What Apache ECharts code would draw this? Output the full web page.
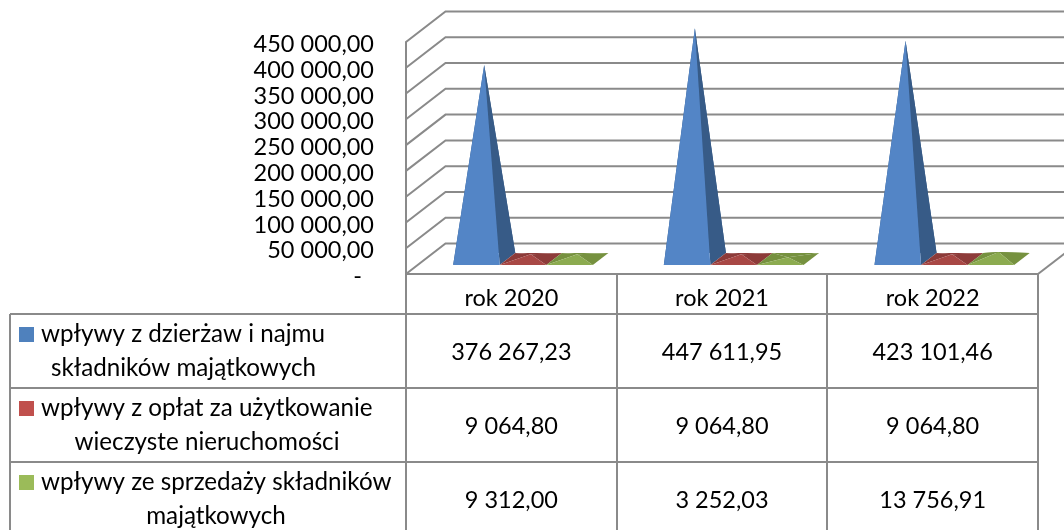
<!DOCTYPE html>
<html>
<head>
<meta charset="utf-8">
<style>
	html, body { margin: 0; padding: 0; background: #fff; }
	#main { width: 1064px; height: 530px; overflow: hidden; }
</style>
<script src="https://cdn.jsdelivr.net/npm/echarts@6/dist/echarts.min.js"></script>
</head>
<body>
<div id="main"></div>
<script>
var categories = ['rok 2020', 'rok 2021', 'rok 2022']
var seriesNames = [
	['wpływy z dzierżaw i najmu', 'składników majątkowych'],
	['wpływy z opłat za użytkowanie', 'wieczyste nieruchomości'],
	['wpływy ze sprzedaży składników', 'majątkowych'],
]
var rentValues = [376267.23, 447611.95, 423101.46]
var feeValues = [9064.8, 9064.8, 9064.8]
var saleValues = [9312.0, 3252.03, 13756.91]
var valueTicks = [0, 50000, 100000, 150000, 200000, 250000, 300000, 350000, 400000, 450000]

var FONT = 'Lato'
var FONT_SIZE = 23.5
var NAME_FONT_SIZE = 24.2
var TEXT_COLOR = '#000'
var LINE_COLOR = '#8a8a8a'
var LINE_WIDTH = 2

var GRID_LEFT = 406
var GRID_RIGHT = 1038
var GRID_TOP = 42
var GRID_BOTTOM = 274
var DEPTH_X = 39.5
var DEPTH_Y = 30.5
var BAR_FRONT = 0.295
var BAR_BACK = 0.689
var BAR_SHARE = 0.221

var allValues = [rentValues, feeValues, saleValues]
var keyColors = ['#4f81bd', '#c0504d', '#9bbb59']
var frontColors = ['#5385c6', '#a84845', '#8cab50']
var sideColors = ['#375b87', '#8d3b39', '#76913f']

var ROW_TOPS = [314, 388, 462]
var COLUMN_LINES = [617, 827]
var ROW_HEIGHT = 74
var TABLE_LEFT = 10
var SECOND_LINE_CENTER = [183.5, 207, 216]

function formatPln(value) {
	if (value === 0) {
		return '-\u00a0\u00a0'
	}
	var parts = value.toFixed(2).split('.')
	return parts[0].replace(/\B(?=(\d{3})+$)/g, ' ') + ',' + parts[1]
}

function renderWall(params, api) {
	var y = api.coord([0, api.value(1)])[1]
	var left = params.coordSys.x
	var right = left + params.coordSys.width
	return {
		type: 'polyline',
		shape: {
			points: [
				[left, y],
				[left + DEPTH_X, y - DEPTH_Y],
				[right + DEPTH_X, y - DEPTH_Y],
			],
		},
		style: { fill: null, stroke: LINE_COLOR, lineWidth: LINE_WIDTH },
	}
}

function renderPyramid(seriesIndex) {
	return function (params, api) {
		var base = api.coord([api.value(0), 0])
		var top = api.coord([api.value(0), api.value(1)])
		var barWidth = api.size([1, 0])[0] * BAR_SHARE
		var startX = base[0] - 1.5 * barWidth + seriesIndex * barWidth

		var frontY = base[1] - BAR_FRONT * DEPTH_Y
		var backY = base[1] - BAR_BACK * DEPTH_Y
		var fl = [startX + BAR_FRONT * DEPTH_X, frontY]
		var fr = [fl[0] + barWidth, frontY]
		var bl = [startX + BAR_BACK * DEPTH_X, backY]
		var br = [bl[0] + barWidth, backY]
		var apex = [(fl[0] + br[0]) / 2, (frontY + backY) / 2 - (base[1] - top[1])]

		var side = { fill: sideColors[seriesIndex] }
		var front = { fill: frontColors[seriesIndex] }
		return {
			type: 'group',
			children: [
				{ type: 'polygon', shape: { points: [bl, br, apex] }, style: side },
				{ type: 'polygon', shape: { points: [fl, bl, apex] }, style: side },
				{ type: 'polygon', shape: { points: [fr, br, apex] }, style: side },
				{ type: 'polygon', shape: { points: [fl, fr, apex] }, style: front },
			],
		}
	}
}

function tableLine(x1, y1, x2, y2) {
	return {
		type: 'line',
		shape: { x1: x1, y1: y1, x2: x2, y2: y2 },
		style: { stroke: LINE_COLOR, lineWidth: LINE_WIDTH },
	}
}

function tableText(text, x, y, align, size) {
	return {
		type: 'text',
		x: x,
		y: y,
		style: {
			text: text,
			fill: TEXT_COLOR,
			fontFamily: FONT,
			fontSize: size,
			align: align,
			verticalAlign: 'middle',
		},
	}
}

function buildTable() {
	var items = []
	var bottom = 530

	// lines of the table
	items.push(tableLine(GRID_LEFT, GRID_BOTTOM, GRID_LEFT, bottom))
	items.push(tableLine(GRID_RIGHT, GRID_BOTTOM, GRID_RIGHT, bottom))
	items.push(tableLine(TABLE_LEFT, ROW_TOPS[0], TABLE_LEFT, bottom))
	COLUMN_LINES.forEach(function (x) {
		items.push(tableLine(x, GRID_BOTTOM, x, bottom))
	})
	ROW_TOPS.forEach(function (y) {
		items.push(tableLine(TABLE_LEFT, y, GRID_RIGHT, y))
	})
	// floor edge on the right side
	items.push(tableLine(GRID_RIGHT, GRID_BOTTOM, GRID_RIGHT + DEPTH_X, GRID_BOTTOM - DEPTH_Y))

	var columnWidth = (GRID_RIGHT - GRID_LEFT) / categories.length
	seriesNames.forEach(function (name, row) {
		var rowTop = ROW_TOPS[row]
		items.push({
			type: 'rect',
			shape: { x: 19, y: rowTop + 13, width: 15, height: 15 },
			style: { fill: keyColors[row] },
		})
		items.push(tableText(name[0], 41, rowTop + 20.5, 'left', NAME_FONT_SIZE))
		items.push(tableText(name[1], SECOND_LINE_CENTER[row], rowTop + 54, 'center', NAME_FONT_SIZE))

		allValues[row].forEach(function (value, column) {
			var x = GRID_LEFT + columnWidth * (column + 0.5)
			items.push(tableText(formatPln(value), x, rowTop + ROW_HEIGHT / 2 + 1, 'center', FONT_SIZE))
		})
	})
	return items
}

function pyramidSeries(seriesIndex) {
	return {
		name: seriesNames[seriesIndex].join(' '),
		type: 'custom',
		renderItem: renderPyramid(seriesIndex),
		encode: { x: 0, y: 1 },
		z: 3 + seriesIndex,
		data: allValues[seriesIndex].map(function (value, index) {
			return [index, value]
		}),
	}
}

var myChart = echarts.init(document.getElementById('main'))
var option = {
	animation: false,
	grid: {
		left: GRID_LEFT,
		top: GRID_TOP,
		width: GRID_RIGHT - GRID_LEFT,
		height: GRID_BOTTOM - GRID_TOP,
	},
	xAxis: {
		type: 'category',
		data: categories,
		axisLine: { lineStyle: { color: LINE_COLOR, width: LINE_WIDTH } },
		axisTick: { show: false },
		axisLabel: {
			color: TEXT_COLOR,
			fontFamily: FONT,
			fontSize: FONT_SIZE,
			margin: 12,
		},
	},
	yAxis: {
		type: 'value',
		min: 0,
		max: 450000,
		interval: 50000,
		axisLine: { show: true, lineStyle: { color: LINE_COLOR, width: LINE_WIDTH } },
		axisTick: { show: false },
		splitLine: { show: false },
		axisLabel: {
			color: TEXT_COLOR,
			fontFamily: FONT,
			fontSize: FONT_SIZE,
			margin: 32,
			formatter: function (value) {
				return '{tick|' + formatPln(value) + '}'
			},
			rich: {
				tick: {
					color: TEXT_COLOR,
					fontFamily: FONT,
					fontSize: FONT_SIZE,
					padding: [5, 0, 0, 0],
				},
			},
		},
	},
	graphic: buildTable(),
	series: [
		{
			name: 'walls',
			type: 'custom',
			renderItem: renderWall,
			encode: { x: 0, y: 1 },
			z: 1,
			data: valueTicks.map(function (tick) {
				return [0, tick]
			}),
		},
		pyramidSeries(0),
		pyramidSeries(1),
		pyramidSeries(2),
	],
}

option && myChart.setOption(option)
</script>
</body>
</html>
